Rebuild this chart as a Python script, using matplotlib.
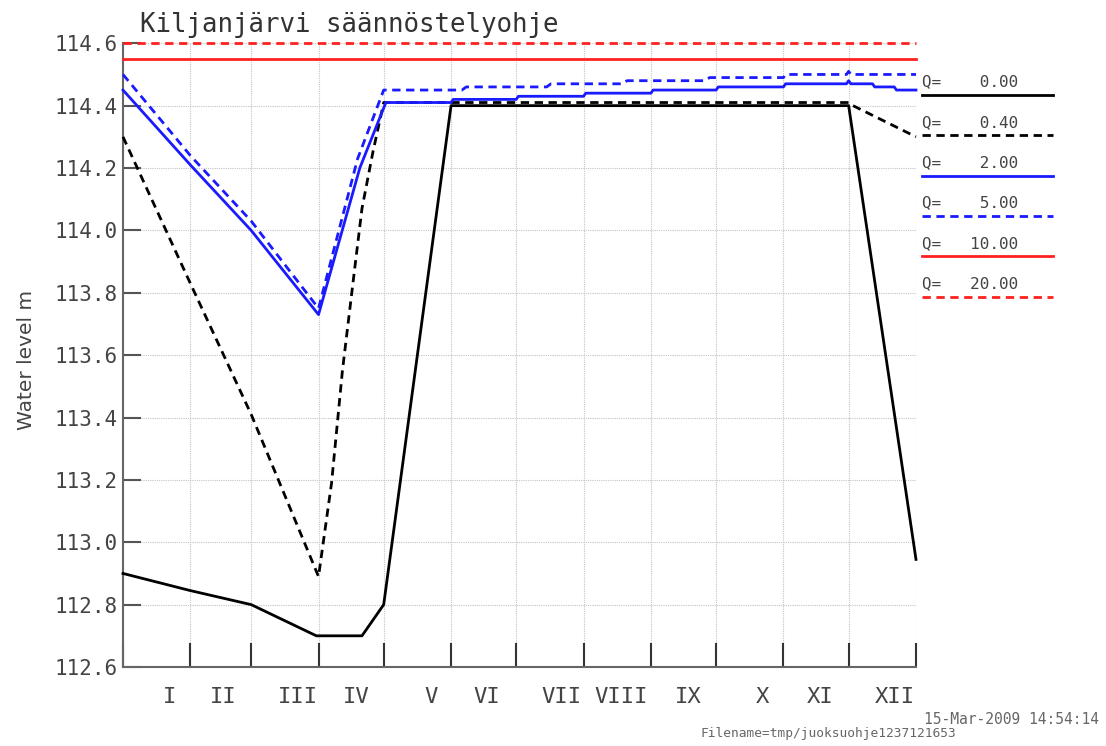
import matplotlib
matplotlib.use("Agg")
import matplotlib.pyplot as plt
from matplotlib.lines import Line2D

# day of year -> water level (m)
q0_days = [0, 31, 59, 89, 110, 120, 151, 334, 365]
q0_lev = [112.90, 112.845, 112.80, 112.70, 112.70, 112.80, 114.40, 114.40, 112.945]

q04_days = [0, 31, 59, 90, 96, 101, 106, 110, 115, 120, 334, 336, 365]
q04_lev = [114.30, 113.83, 113.41, 112.89, 113.19, 113.55, 113.84, 114.07, 114.25, 114.41,
           114.41, 114.40, 114.30]

q2_days = [0, 31, 59, 90, 109, 121, 151, 152, 181, 182, 212, 213, 243, 244, 273, 274,
           304, 305, 333, 334, 335, 345, 346, 355, 356, 365]
q2_lev = [114.45, 114.21, 114.00, 113.73, 114.20, 114.41, 114.41, 114.42, 114.42, 114.43,
          114.43, 114.44, 114.44, 114.45, 114.45, 114.46, 114.46, 114.47, 114.47, 114.48,
          114.47, 114.47, 114.46, 114.46, 114.45, 114.45]

q5_days = [0, 31, 59, 90, 108, 120, 156, 158, 195, 197, 230, 232, 268, 270, 304, 305,
           333, 334, 335, 365]
q5_lev = [114.50, 114.24, 114.03, 113.75, 114.23, 114.45, 114.45, 114.46, 114.46, 114.47,
          114.47, 114.48, 114.48, 114.49, 114.49, 114.50, 114.50, 114.51, 114.50, 114.50]

q10_days = [0, 365]
q10_lev = [114.55, 114.55]

q20_days = [0, 365]
q20_lev = [114.60, 114.60]

q_labels = ["Q=    0.00", "Q=    0.40", "Q=    2.00", "Q=    5.00", "Q=   10.00", "Q=   20.00"]

month_bounds = [0, 31, 59, 90, 120, 151, 181, 212, 243, 273, 304, 334, 365]
month_names = ["I", "II", "III", "IV", "V", "VI", "VII", "VIII", "IX", "X", "XI", "XII"]
month_label_pos = [21.6, 46, 80.5, 107.2, 141.7, 167.5, 202, 229.2, 260, 294.5, 320.8, 355.3]

mono = "DejaVu Sans Mono"
txt_col = "#444444"

fig = plt.figure(figsize=(11.06, 7.46), dpi=100)
ax = fig.add_axes([0.1112, 0.1059, 0.717, 0.8361])

series = [
    (q0_days, q0_lev, "black", "-"),
    (q04_days, q04_lev, "black", (0, (3, 2))),
    (q2_days, q2_lev, "#1a1aff", "-"),
    (q5_days, q5_lev, "#1a1aff", (0, (3, 2))),
    (q10_days, q10_lev, "#ff2020", "-"),
    (q20_days, q20_lev, "#ff2020", (0, (3, 2))),
]
for d, v, c, ls in series:
    ax.plot(d, v, color=c, linestyle=ls, lw=2, clip_on=False, zorder=3)

ax.set_xlim(0, 365)
ax.set_ylim(112.6, 114.6)
ax.set_yticks([112.6 + 0.2 * i for i in range(11)])
ax.set_yticklabels(["%.1f" % (112.6 + 0.2 * i) for i in range(11)],
                   fontfamily=mono, fontsize=15, color=txt_col)
ax.set_xticks(month_bounds)
ax.set_xticklabels([])
ax.tick_params(axis="y", direction="in", length=13, width=1.5, color="#555555", pad=4)
ax.tick_params(axis="x", direction="in", length=17, width=1.5, color="#333333")
ax.grid(True, color="#c4c4c4", linestyle=(0, (1, 1)), lw=0.8)
for s in ["top", "right"]:
    ax.spines[s].set_visible(False)
for s in ["left", "bottom"]:
    ax.spines[s].set_color("#666666")
    ax.spines[s].set_linewidth(1.5)

for pos, name in zip(month_label_pos, month_names):
    ax.text(pos, -0.048, name, transform=ax.get_xaxis_transform(), ha="center", va="center",
            fontfamily=mono, fontsize=16, color=txt_col)

fig.text(27 / 1106, 1 - 360 / 746, "Water level m", rotation=90, fontsize=14.5,
         color=txt_col, ha="center", va="center")

fig.text(140 / 1106, 1 - 25 / 746, "Kiljanjärvi säännöstelyohje", fontfamily=mono,
         fontsize=18.5, color="#333333", va="center", ha="left")

# legend on the right: text with a line sample below
for i, (lab, (d, v, c, ls)) in enumerate(zip(q_labels, series)):
    ty = 82 + 40.3 * i
    ly = 95 + 40.3 * i
    fig.text(922 / 1106, 1 - ty / 746, lab, fontfamily=mono, fontsize=11.5,
             color=txt_col, va="center", ha="left")
    fig.add_artist(Line2D([922 / 1106, 1053 / 1106], [1 - ly / 746, 1 - ly / 746],
                          color=c, linestyle=ls, lw=2))

fig.text(1099 / 1106, 1 - 720 / 746, "15-Mar-2009 14:54:14", fontfamily=mono,
         fontsize=10.5, color="#666666", ha="right", va="center")
fig.text(700 / 1106, 1 - 733 / 746, "Filename=tmp/juoksuohje1237121653", fontfamily=mono,
         fontsize=9.3, color="#666666", ha="left", va="center")

fig.savefig("out.png", dpi=100)
